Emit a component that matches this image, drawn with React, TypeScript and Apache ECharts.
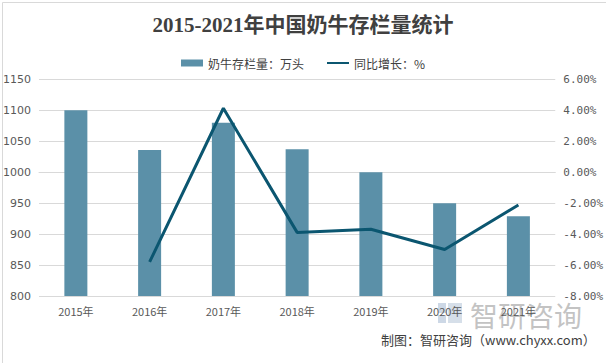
import React, { useEffect, useRef } from "react";
import * as echarts from "echarts";

const categories = ["2015年", "2016年", "2017年", "2018年", "2019年", "2020年", "2021年"];
const stockValues = [1100, 1036, 1080, 1037, 1000, 950, 929];
const growthValues: (number | null)[] = [null, -5.8, 4.13, -3.89, -3.69, -5.0, -2.12];

export default function App() {
  const ref = useRef<HTMLDivElement>(null);
  useEffect(() => {
    if (!ref.current) return;
    const chart = echarts.init(ref.current, null, { renderer: "svg" });
    chart.setOption({
      animation: false,
      backgroundColor: "#ffffff",
      title: {
        text: "2015-2021年中国奶牛存栏量统计",
        left: "center",
        top: 9,
        textStyle: {
          fontFamily: "Liberation Serif, Noto Sans CJK SC",
          fontSize: 21,
          fontWeight: "bold",
          color: "#404040",
        },
      },
      legend: {
        top: 52,
        left: "center",
        itemGap: 22,
        itemWidth: 22,
        itemHeight: 7,
        textStyle: { color: "#404040", fontSize: 12, fontFamily: "Noto Sans CJK SC" },
        data: [
          { name: "奶牛存栏量：万头", icon: "rect" },
          { name: "同比增长：%", itemStyle: { opacity: 0 } },
        ],
      },
      grid: { left: 35, right: 50, top: 79.3, bottom: 67, containLabel: false },
      xAxis: {
        type: "category",
        data: categories,
        axisLine: { lineStyle: { color: "#d9d9d9" } },
        axisTick: { show: false },
        axisLabel: { color: "#595959", fontSize: 11, margin: 9, fontFamily: "Noto Sans CJK SC" },
      },
      yAxis: [
        {
          type: "value",
          min: 800,
          max: 1150,
          interval: 50,
          axisLine: { show: false },
          axisTick: { show: false },
          axisLabel: {
            color: "#595959",
            fontSize: 11,
            margin: 8,
            fontFamily: "DejaVu Sans",
            formatter: (v: number) => String(v),
          },
          splitLine: { lineStyle: { color: "#d9d9d9" } },
        },
        {
          type: "value",
          min: -8,
          max: 6,
          interval: 2,
          axisLine: { show: false },
          axisTick: { show: false },
          splitLine: { show: false },
          axisLabel: {
            color: "#595959",
            fontSize: 11,
            margin: 8,
            fontFamily: "DejaVu Sans Mono",
            formatter: (v: number) => v.toFixed(2) + "%",
          },
        },
      ],
      series: [
        {
          name: "奶牛存栏量：万头",
          type: "bar",
          data: stockValues,
          barWidth: 23,
          itemStyle: { color: "#5b90a8" },
        },
        {
          name: "同比增长：%",
          type: "line",
          yAxisIndex: 1,
          data: growthValues,
          symbol: "none",
          lineStyle: { color: "#0b5670", width: 3 },
          itemStyle: { color: "#0b5670" },
        },
      ],
      graphic: [
        {
          type: "rect",
          left: 0,
          top: 0,
          shape: { width: 605, height: 362 },
          style: { fill: "none", stroke: "#d9d9d9", lineWidth: 1 },
          silent: true,
        },
        {
          type: "group",
          left: 438,
          top: 301,
          silent: true,
          children: [
            { type: "rect", shape: { x: 0, y: 2, width: 8, height: 10 }, style: { fill: "#b8c8dc", opacity: 0.7 } },
            { type: "rect", shape: { x: 0, y: 14, width: 8, height: 8 }, style: { fill: "#b8c8dc", opacity: 0.7 } },
            { type: "rect", shape: { x: 10, y: 2, width: 14, height: 20 }, style: { fill: "#c5d2e0", opacity: 0.7 } },
            {
              type: "text",
              x: 32,
              y: 0,
              style: {
                text: "智研咨询",
                fontSize: 28,
                fontFamily: "Noto Sans CJK SC",
                fill: "#b0b0b0",
                opacity: 0.75,
              },
            },
          ],
        },
        {
          type: "text",
          left: 381,
          top: 333,
          style: {
            text: "制图：智研咨询（www.chyxx.com）",
            fontSize: 13,
            fontFamily: "Noto Sans CJK SC",
            fill: "#404040",
          },
        },
      ],
    });
    return () => chart.dispose();
  }, []);
  return (
    <div
      ref={ref}
      style={{ position: "fixed", left: 0, top: 0, width: 606, height: 363 }}
    />
  );
}
